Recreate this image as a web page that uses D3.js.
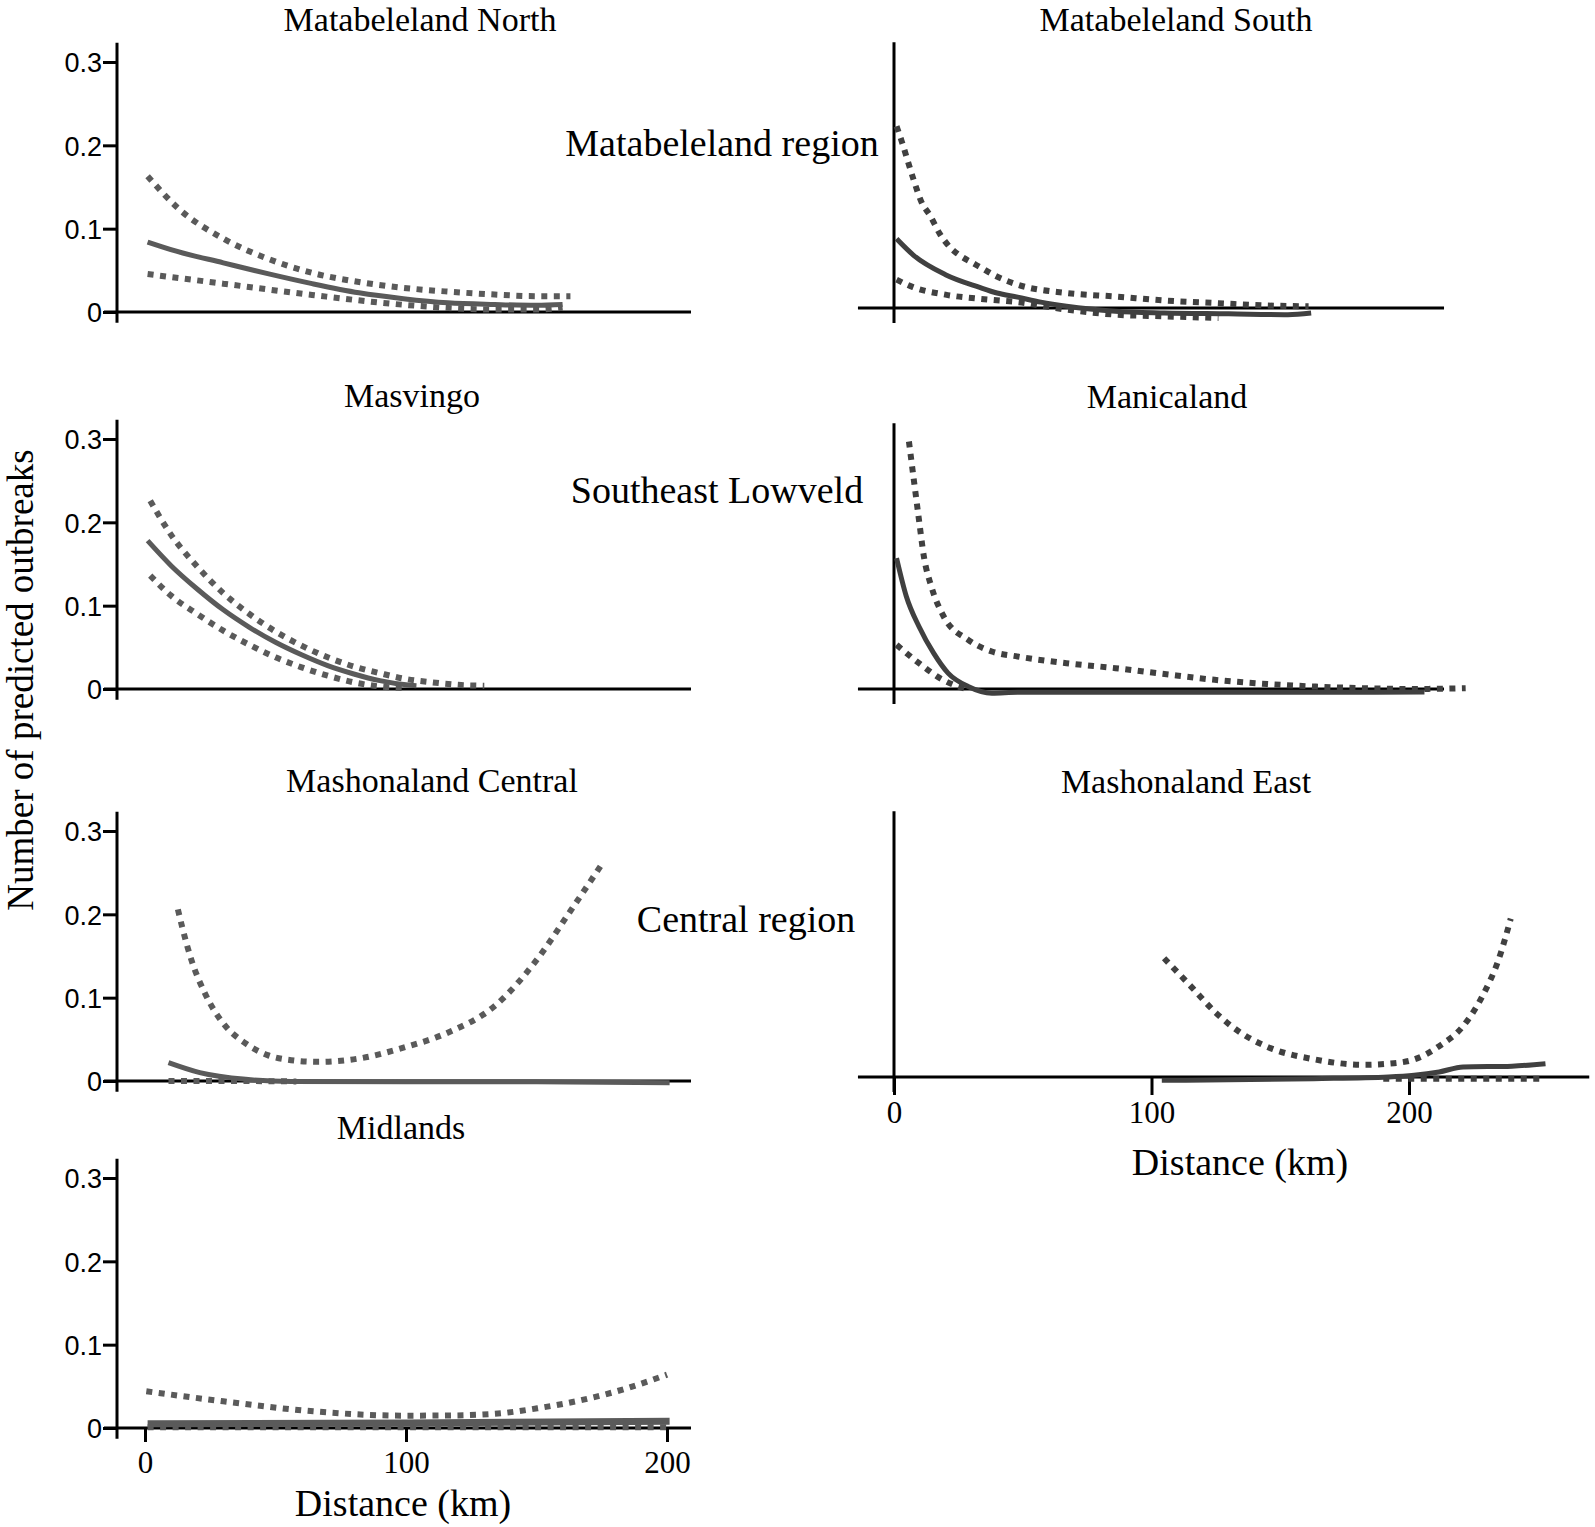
<!DOCTYPE html>
<html>
<head>
<meta charset="utf-8">
<script src="https://cdn.jsdelivr.net/npm/d3@7"></script>
<style>
  html, body { margin: 0; padding: 0; background: #fff; }
  svg { display: block; }
  .serif { font-family: "Liberation Serif", "Times New Roman", serif; fill: #000; }
  .sans { font-family: "Liberation Sans", Arial, sans-serif; fill: #000; }
</style>
</head>
<body>
<div id="chart"></div>
<script>
// ---------------- DATA ----------------
const yTickValues = [0, 0.1, 0.2, 0.3];
const yTickLabels = ["0", "0.1", "0.2", "0.3"];
const xTickValues = [0, 100, 200];
const xTickLabels = ["0", "100", "200"];
const panelTitles = ["Matabeleland North", "Matabeleland South", "Masvingo", "Manicaland",
                     "Mashonaland Central", "Mashonaland East", "Midlands"];
const regionLabels = ["Matabeleland region", "Southeast Lowveld", "Central region"];
const xAxisTitle = "Distance (km)";
const yAxisTitle = "Number of predicted outbreaks";

// Matabeleland North
const mnFitKm = [1, 12, 30, 47, 64, 82, 99, 116, 134, 150, 160];
const mnFitVal = [0.084, 0.073, 0.059, 0.046, 0.034, 0.023, 0.016, 0.011, 0.009, 0.008, 0.009];
const mnUpKm = [1, 12.5, 30, 47, 64, 82, 99, 116, 134, 150, 163];
const mnUpVal = [0.163, 0.125, 0.088, 0.064, 0.047, 0.036, 0.029, 0.0245, 0.021, 0.019, 0.019];
const mnLoKm = [1, 30, 64, 99, 134, 150, 160];
const mnLoVal = [0.0455, 0.034, 0.0205, 0.0087, 0.003, 0.003, 0.005];

// Matabeleland South
const msFitKm = [1, 7.5, 20, 33, 40, 48, 57, 67, 86, 105, 130, 153, 162];
const msFitVal = [0.083, 0.0635, 0.040, 0.025, 0.018, 0.013, 0.007, 0.002, -0.004, -0.006, -0.007, -0.008, -0.006];
const msUpKm = [1, 3, 5, 7.5, 10.7, 14, 17.8, 21.7, 25.6, 30, 34, 38.5, 48, 67, 86, 105, 124.5, 145, 161];
const msUpVal = [0.218, 0.200, 0.180, 0.155, 0.127, 0.111, 0.089, 0.073, 0.063, 0.055, 0.048, 0.040, 0.028, 0.018, 0.0138, 0.009, 0.006, 0.003, 0.002];
const msLoKm = [1, 7.4, 20, 37, 48, 67, 86, 105, 126];
const msLoVal = [0.034, 0.025, 0.016, 0.010, 0.007, -0.002, -0.008, -0.010, -0.012];

// Masvingo
const mvFitKm = [1, 10, 20, 30, 40, 50, 60, 70, 80, 90, 100, 104];
const mvFitVal = [0.178, 0.148, 0.120, 0.095, 0.074, 0.056, 0.041, 0.028, 0.018, 0.010, 0.005, 0.004];
const mvUpKm = [2, 10, 20, 30, 40, 50, 60, 70, 80, 90, 100, 110, 120, 130];
const mvUpVal = [0.226, 0.185, 0.147, 0.115, 0.090, 0.069, 0.052, 0.038, 0.027, 0.019, 0.012, 0.008, 0.005, 0.004];
const mvLoKm = [2, 10, 20, 30, 40, 50, 60, 70, 80, 90, 100];
const mvLoVal = [0.136, 0.112, 0.090, 0.070, 0.053, 0.038, 0.026, 0.016, 0.008, 0.003, 0.001];

// Manicaland
const mcFitKm = [1, 4.8, 9.7, 15.4, 21, 28.8, 38, 48, 80, 120, 160, 206];
const mcFitVal = [0.157, 0.111, 0.075, 0.043, 0.019, 0.003, -0.005, -0.004, -0.004, -0.004, -0.004, -0.0036];
const mcUpKm = [5.8, 7.7, 9.7, 11.6, 14.5, 19.3, 28.8, 38, 48, 67, 86, 105, 124.5, 145, 163, 182, 201, 222];
const mcUpVal = [0.297, 0.251, 0.203, 0.159, 0.123, 0.087, 0.059, 0.045, 0.039, 0.031, 0.025, 0.018, 0.011, 0.006, 0.003, 0.001, 0.0, 0.001];
const mcLoKm = [1, 9.7, 19, 24, 28];
const mcLoVal = [0.053, 0.031, 0.011, 0.004, 0.0];

// Mashonaland Central
const mceFitKm = [9, 21, 38.6, 56, 100, 150, 201];
const mceFitVal = [0.022, 0.010, 0.002, -0.0005, -0.001, -0.001, -0.002];
const mceUpKm = [12.6, 14.3, 17.8, 23, 30, 38.6, 47, 56, 66, 82, 99, 116, 134, 150, 163, 175];
const mceUpVal = [0.206, 0.184, 0.145, 0.105, 0.069, 0.045, 0.031, 0.025, 0.023, 0.027, 0.040, 0.058, 0.090, 0.145, 0.204, 0.260];
const mceLoKm = [9, 30, 58];
const mceLoVal = [0.0, 0.0, -0.0005];

// Mashonaland East
const meFitKm = [104, 163, 192, 202, 211.7, 221, 240, 253];
const meFitVal = [-0.004, -0.002, 0.0, 0.002, 0.006, 0.012, 0.013, 0.016];
const meUpKm = [104.9, 115.4, 125, 134.7, 144.4, 163.5, 182.8, 192, 202, 211.7, 221, 229, 234.7, 239.5];
const meUpVal = [0.1425, 0.1085, 0.077, 0.053, 0.037, 0.021, 0.0147, 0.016, 0.021, 0.037, 0.061, 0.100, 0.140, 0.190];
const meLoKm = [190, 253];
const meLoVal = [-0.002, -0.002];

// Midlands
const miFitKm = [1, 100, 201];
const miFitVal = [0.005, 0.006, 0.008];
const miUpKm = [0.5, 30, 64.5, 99, 116, 134, 151, 168, 185, 200];
const miUpVal = [0.044, 0.032, 0.020, 0.0148, 0.015, 0.017, 0.024, 0.034, 0.048, 0.064];
const miLoKm = [1, 201];
const miLoVal = [0.001, 0.001];

// ---------------- LAYOUT ----------------
const W = 1595, H = 1527;
const zip = (a, b) => a.map((v, i) => [v, b[i]]);

const panels = [
  { title: panelTitles[0], side: "L", zero: 312, tx: 420, ty: 30.5, color: "#5a5a5a",
    fit: zip(mnFitKm, mnFitVal), up: zip(mnUpKm, mnUpVal), lo: zip(mnLoKm, mnLoVal) },
  { title: panelTitles[1], side: "R", zero: 308, tx: 1176, ty: 30.5, color: "#404040", xEnd: 213.6,
    fit: zip(msFitKm, msFitVal), up: zip(msUpKm, msUpVal), lo: zip(msLoKm, msLoVal) },
  { title: panelTitles[2], side: "L", zero: 689, tx: 412, ty: 407, color: "#5a5a5a",
    fit: zip(mvFitKm, mvFitVal), up: zip(mvUpKm, mvUpVal), lo: zip(mvLoKm, mvLoVal) },
  { title: panelTitles[3], side: "R", zero: 689, tx: 1167, ty: 408, color: "#404040", xEnd: 213.6,
    fit: zip(mcFitKm, mcFitVal), up: zip(mcUpKm, mcUpVal), lo: zip(mcLoKm, mcLoVal) },
  { title: panelTitles[4], side: "L", zero: 1081, tx: 432, ty: 792, color: "#5a5a5a",
    fit: zip(mceFitKm, mceFitVal), up: zip(mceUpKm, mceUpVal), lo: zip(mceLoKm, mceLoVal) },
  { title: panelTitles[5], side: "R", zero: 1077, tx: 1186, ty: 793, color: "#404040", xEnd: 270,
    xTicks: true, labY: 1112, titleY: 1162, titleX: 1240,
    fit: zip(meFitKm, meFitVal), up: zip(meUpKm, meUpVal), lo: zip(meLoKm, meLoVal) },
  { title: panelTitles[6], side: "L", zero: 1428, tx: 401, ty: 1139, color: "#5a5a5a", fitWidth: 7,
    xTicks: true, labY: 1462, titleY: 1503, titleX: 403,
    fit: zip(miFitKm, miFitVal), up: zip(miUpKm, miUpVal), lo: zip(miLoKm, miLoVal) }
];

const svg = d3.select("#chart").append("svg")
  .attr("width", W).attr("height", H)
  .attr("viewBox", `0 0 ${W} ${H}`);

panels.forEach(p => {
  const left = p.side === "L";
  const x = d3.scaleLinear().domain([0, 200]).range(left ? [145, 667] : [894, 1409]);
  const y = d3.scaleLinear().domain([0, 0.3]).range([p.zero, p.zero - 250]);
  const g = svg.append("g");

  const yAxisX = left ? 117 : x(0);
  const yTop = left ? 0.323 : 0.319;
  const yBot = left ? -0.013 : -0.018;
  const xStart = left ? x.invert(104) : -14;
  const xEnd = left ? x.invert(691) : p.xEnd;

  g.append("line")
    .attr("x1", x(xStart)).attr("x2", x(xEnd))
    .attr("y1", y(0)).attr("y2", y(0))
    .attr("stroke", "#000").attr("stroke-width", 3);
  g.append("line")
    .attr("x1", yAxisX).attr("x2", yAxisX)
    .attr("y1", y(yTop)).attr("y2", y(yBot))
    .attr("stroke", "#000").attr("stroke-width", 3);

  if (left) {
    const ya = d3.axisLeft(y).tickValues(yTickValues)
      .tickFormat((d, i) => yTickLabels[i]).tickSize(14).tickPadding(1);
    const ag = g.append("g").attr("transform", `translate(${yAxisX},0)`).call(ya);
    ag.select(".domain").remove();
    ag.selectAll(".tick line").attr("stroke", "#000").attr("stroke-width", 3);
    ag.selectAll(".tick text").attr("class", "sans").style("font-size", "27px")
      .attr("dy", "0.36em");
  }

  if (p.xTicks) {
    const xa = d3.axisBottom(x).tickValues(xTickValues)
      .tickFormat((d, i) => xTickLabels[i]).tickSize(left ? 14 : 18).tickPadding(0);
    const ag = g.append("g").attr("transform", `translate(0,${y(0)})`).call(xa);
    ag.select(".domain").remove();
    ag.selectAll(".tick line").attr("stroke", "#000").attr("stroke-width", 3);
    ag.selectAll(".tick text").attr("class", "serif").style("font-size", "31px")
      .attr("y", p.labY - p.zero).attr("dy", "0.35em");
    g.append("text").attr("class", "serif")
      .attr("x", p.titleX).attr("y", p.titleY).attr("dy", "0.33em")
      .attr("text-anchor", "middle").style("font-size", "38px")
      .text(xAxisTitle);
  }

  const line = d3.line().x(d => x(d[0])).y(d => y(d[1])).curve(d3.curveMonotoneX);

  g.append("path").datum(p.lo).attr("d", line)
    .attr("fill", "none").attr("stroke", p.color).attr("stroke-width", 6)
    .attr("stroke-dasharray", "6,6.5");
  g.append("path").datum(p.fit).attr("d", line)
    .attr("fill", "none").attr("stroke", p.color).attr("stroke-width", p.fitWidth || 5);
  g.append("path").datum(p.up).attr("d", line)
    .attr("fill", "none").attr("stroke", p.color).attr("stroke-width", 6)
    .attr("stroke-dasharray", "6,6.5");

  g.append("text").attr("class", "serif")
    .attr("x", p.tx).attr("y", p.ty)
    .attr("text-anchor", "middle").style("font-size", "34px")
    .text(p.title);
});

// region labels
const regionPos = [[722, 156], [717, 503], [746, 932]];
regionLabels.forEach((t, i) => {
  svg.append("text").attr("class", "serif")
    .attr("x", regionPos[i][0]).attr("y", regionPos[i][1])
    .attr("text-anchor", "middle").style("font-size", "38px")
    .text(t);
});

// y axis title
svg.append("text").attr("class", "serif")
  .attr("transform", "translate(33,680) rotate(-90)")
  .attr("text-anchor", "middle").style("font-size", "37px")
  .text(yAxisTitle);
</script>
</body>
</html>
